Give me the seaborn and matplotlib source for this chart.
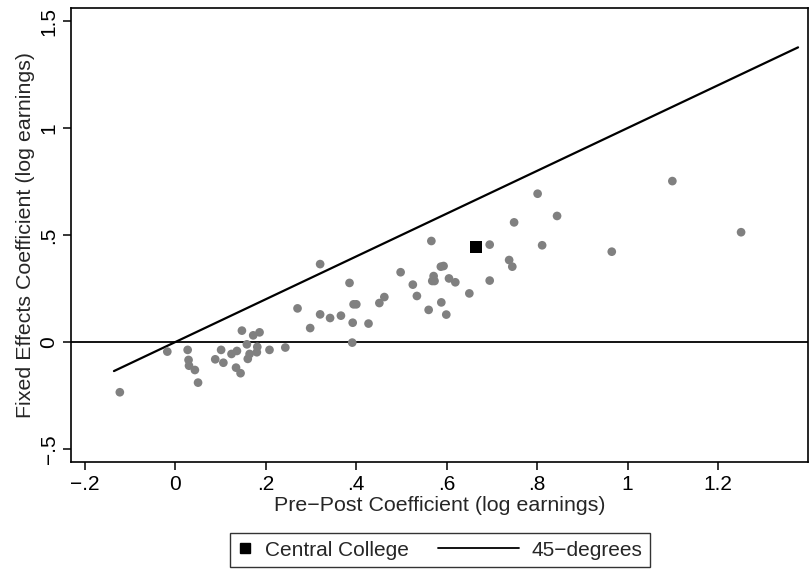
import matplotlib
matplotlib.use("Agg")
import matplotlib.pyplot as plt
import seaborn as sns
import pandas as pd
from matplotlib.lines import Line2D
from matplotlib.legend_handler import HandlerBase

# Other colleges: pre-post coefficient (x) and fixed effects coefficient (y)
pre_post = [0.320, 0.385, 0.394, 0.400, 0.270, 0.320, 0.342, 0.366, 0.392, 0.298,
            0.391, 0.147, 0.172, 0.186, 0.158, 0.181, 0.180, 0.208, 0.243, 0.124,
            0.136, 0.164, 0.160, 0.101, 0.088, 0.106, 0.134, 0.144, 0.027, 0.029,
            0.030, 0.043, 0.050, -0.018, -0.123,
            0.427, 0.451, 0.462, 0.498, 0.525, 0.534, 0.560, 0.566, 0.571, 0.568,
            0.573, 0.587, 0.593, 0.588, 0.599, 0.605, 0.619, 0.650, 0.695, 0.695,
            0.738, 0.745, 0.749, 0.801, 0.844, 0.811, 1.099, 1.251, 0.965]
fixed_eff = [0.364, 0.276, 0.176, 0.176, 0.157, 0.129, 0.112, 0.123, 0.090, 0.065,
             -0.003, 0.053, 0.031, 0.045, -0.011, -0.023, -0.048, -0.037, -0.026, -0.056,
             -0.042, -0.056, -0.079, -0.037, -0.081, -0.097, -0.120, -0.146, -0.037, -0.084,
             -0.111, -0.131, -0.190, -0.045, -0.235,
             0.086, 0.182, 0.210, 0.326, 0.268, 0.215, 0.150, 0.472, 0.308, 0.285,
             0.285, 0.352, 0.355, 0.185, 0.128, 0.297, 0.279, 0.227, 0.455, 0.287,
             0.383, 0.352, 0.559, 0.693, 0.589, 0.452, 0.752, 0.513, 0.422]

# Central College
central_x = [0.665]
central_y = [0.445]

# 45-degree line end points
line_x = [-0.136, 1.377]

x_ticks = [-0.2, 0, 0.2, 0.4, 0.6, 0.8, 1.0, 1.2]
x_tick_labels = ["\u2212.2", "0", ".2", ".4", ".6", ".8", "1", "1.2"]
y_ticks = [-0.5, 0, 0.5, 1.0, 1.5]
y_tick_labels = ["\u2212.5", "0", ".5", "1", "1.5"]

FS = 15
LFS = 15.4

sns.set_style("ticks")
plt.rcParams["font.family"] = ["Liberation Sans", "DejaVu Sans"]

fig = plt.figure(figsize=(8.12, 5.71), dpi=100)
ax = fig.add_axes([71 / 812, 1 - 462 / 571, (808 - 71) / 812, (462 - 8) / 571])

others = pd.DataFrame({"x": pre_post, "y": fixed_eff})
central = pd.DataFrame({"x": central_x, "y": central_y})
line45 = pd.DataFrame({"x": line_x, "y": line_x})

ax.axhline(0, color="black", lw=1.3, zorder=1)
sns.lineplot(data=line45, x="x", y="y", ax=ax, color="black", lw=1.6, zorder=2)
sns.scatterplot(data=others, x="x", y="y", ax=ax, color="#808080", s=39,
                edgecolor="none", zorder=3)
sns.scatterplot(data=central, x="x", y="y", ax=ax, color="black", marker="s",
                s=75, edgecolor="none", zorder=4)

ax.set_xlim(-0.231, 1.399)
ax.set_ylim(-0.561, 1.561)
ax.set_xticks(x_ticks)
ax.set_xticklabels(x_tick_labels)
ax.set_yticks(y_ticks)
ax.set_yticklabels(y_tick_labels, rotation=90, va="center")

for s in ax.spines.values():
    s.set_visible(True)
    s.set_color("black")
    s.set_linewidth(1.2)
ax.tick_params(axis="both", direction="out", length=6, width=1.1,
               labelsize=FS, colors="black", pad=3)

ax.set_xlabel("Pre\u2212Post Coefficient (log earnings)", fontsize=LFS, labelpad=2)
ax.set_ylabel("Fixed Effects Coefficient (log earnings)", fontsize=LFS, labelpad=3)


class LongLineHandler(HandlerBase):
    """Draw a line that extends to the left of the (short) handle box."""
    def __init__(self, extend_px, **kw):
        super().__init__(**kw)
        self.extend_px = extend_px

    def create_artists(self, legend, orig_handle, xdescent, ydescent,
                       width, height, fontsize, trans):
        y = height / 2 - ydescent
        ln = Line2D([-xdescent - self.extend_px, width - xdescent], [y, y],
                    color="black", lw=1.3)
        ln.set_transform(trans)
        return [ln]


sq_handle = Line2D([], [], marker="s", color="black", linestyle="none", markersize=7.6)
ln_handle = Line2D([], [], color="black", lw=1.3)

leg = fig.legend([sq_handle, ln_handle], ["Central College", "45\u2212degrees"],
                 handler_map={ln_handle: LongLineHandler(extend_px=48)},
                 loc="lower center", bbox_to_anchor=(440 / 812, 4 / 571),
                 ncol=2, frameon=True, fancybox=False, fontsize=FS,
                 handlelength=0.7, handletextpad=0.6, columnspacing=4.6,
                 borderpad=0.35, borderaxespad=0.0, edgecolor="black")
leg.get_frame().set_linewidth(1.0)

fig.savefig("out.png", dpi=100, facecolor="white")
